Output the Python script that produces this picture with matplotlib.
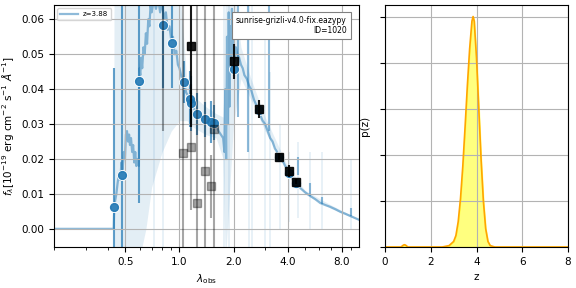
import numpy as np
import matplotlib.pyplot as plt
from matplotlib.ticker import NullFormatter

# best-fit template spectrum (microns, 1e-19 erg/s/cm2/A)
spec_lam = [0.20, 0.43, 0.432, 0.438, 0.445, 0.452, 0.46, 0.468, 0.475, 0.482,
            0.49, 0.497, 0.503, 0.51, 0.517, 0.524, 0.53, 0.537, 0.545, 0.552,
            0.56, 0.567, 0.575, 0.585, 0.594, 0.598, 0.605, 0.612, 0.62, 0.63,
            0.64, 0.65, 0.66, 0.67, 0.68, 0.69, 0.70, 0.72, 0.74, 0.76,
            0.78, 0.80, 0.82, 0.84, 0.86, 0.88, 0.90, 0.92, 0.94, 0.96,
            0.98, 1.00, 1.03, 1.06, 1.09, 1.12, 1.15, 1.18, 1.22, 1.26,
            1.30, 1.35, 1.40, 1.45, 1.50, 1.55, 1.60, 1.65, 1.70, 1.75,
            1.78, 1.80, 1.82, 1.84, 1.86, 1.88, 1.90, 1.92, 1.94, 1.96,
            1.98, 2.00, 2.03, 2.06, 2.10, 2.15, 2.20, 2.25, 2.30, 2.37,
            2.44, 2.50, 2.60, 2.70, 2.80, 2.90, 3.00, 3.10, 3.20, 3.30,
            3.40, 3.50, 3.64, 3.80, 3.88, 4.00, 4.14, 4.30, 4.41, 4.70,
            5.00, 5.35, 5.70, 6.08, 6.50, 6.91, 7.40, 7.86, 8.40, 8.93,
            9.50, 10.0]
spec_flux = [0.0, 0.0, 0.004, 0.008, 0.010, 0.013, 0.016, 0.014, 0.019, 0.017,
             0.022, 0.020, 0.027, 0.028, 0.025, 0.027, 0.024, 0.026, 0.022, 0.024,
             0.019, 0.022, 0.018, 0.020, 0.018, 0.046, 0.044, 0.049, 0.046, 0.052,
             0.050, 0.056, 0.053, 0.060, 0.058, 0.064, 0.062, 0.066, 0.063, 0.066,
             0.062, 0.065, 0.060, 0.062, 0.057, 0.058, 0.054, 0.055, 0.050, 0.051,
             0.047, 0.046, 0.043, 0.042, 0.039, 0.038, 0.036, 0.035, 0.034, 0.033,
             0.032, 0.031, 0.031, 0.030, 0.030, 0.029, 0.030, 0.028, 0.027, 0.026,
             0.022, 0.040, 0.020, 0.055, 0.030, 0.062, 0.035, 0.058, 0.045, 0.063,
             0.050, 0.055, 0.048, 0.052, 0.050, 0.049, 0.047, 0.046, 0.044, 0.043,
             0.041, 0.040, 0.037, 0.035, 0.033, 0.031, 0.030, 0.028, 0.026, 0.025,
             0.023, 0.022, 0.020, 0.019, 0.018, 0.017, 0.0155, 0.014, 0.013, 0.0117,
             0.0105, 0.0094, 0.0085, 0.0074, 0.0068, 0.0063, 0.0056, 0.0049, 0.0043, 0.0037,
             0.0031, 0.0026]

# template uncertainty band
band_lam = [0.20, 0.43, 0.432, 0.59, 0.65, 0.70, 0.80, 0.90, 1.00, 1.10,
            1.20, 1.40, 1.60, 1.75, 1.80, 2.00, 2.20, 2.50, 3.00, 4.00,
            5.00, 7.00, 10.0]
band_lo = [0.0, 0.0, -0.01, -0.01, 0.0, 0.012, 0.022, 0.028, 0.031, 0.031,
           0.029, 0.027, 0.026, 0.020, -0.01, 0.030, 0.043, 0.037, 0.028, 0.016,
           0.0100, 0.0058, 0.0024]
band_hi = [0.0, 0.0, 0.07, 0.07, 0.07, 0.07, 0.07, 0.07, 0.07, 0.042,
           0.038, 0.035, 0.033, 0.032, 0.07, 0.07, 0.052, 0.043, 0.032, 0.018,
           0.011, 0.0068, 0.0028]

# emission lines in the template (lam, bottom, top)
line_lam = [2.12, 2.42, 3.17, 4.60, 5.30, 6.20, 9.00]
line_lo = [0.032, 0.022, 0.028, 0.0154, 0.0095, 0.0072, 0.0036]
line_hi = [0.064, 0.070, 0.070, 0.0206, 0.013, 0.009, 0.006]

# faint lines in the band
faint_lam = [0.72, 0.81, 1.78, 1.88, 2.44, 2.55, 3.00, 3.20, 3.64, 4.10, 4.60, 5.30, 6.20, 9.00]
faint_lo = [-0.01, -0.01, -0.01, -0.01, -0.01, -0.01, -0.01, -0.01, 0.0, 0.002, 0.003, 0.0, 0.0, 0.0]
faint_hi = [0.07, 0.07, 0.07, 0.07, 0.07, 0.07, 0.06, 0.045, 0.03, 0.022, 0.025, 0.022, 0.022, 0.02]

# model photometry
mod_lam = [0.434, 0.477, 0.598, 0.813, 0.913, 1.065, 1.15, 1.16, 1.258, 1.39,
           1.50, 1.55, 2.00, 2.79, 3.59, 4.07, 4.43]
mod_flux = [0.0062, 0.0154, 0.0423, 0.0583, 0.0533, 0.0420, 0.0371, 0.0359, 0.0328, 0.0314,
            0.0306, 0.0304, 0.0459, 0.0340, 0.0205, 0.0160, 0.0132]
mod_err = [0.040, 0.065, 0.035, 0.018, 0.013, 0.006, 0.008, 0.008, 0.006, 0.005,
           0.006, 0.005, 0.002, 0.001, 0.001, 0.001, 0.001]

# observed photometry, good S/N
obs_lam = [1.16, 2.00, 2.79, 3.59, 4.07, 4.43]
obs_flux = [0.0523, 0.0480, 0.0342, 0.0207, 0.0166, 0.0135]
obs_err = [0.023, 0.005, 0.0026, 0.0010, 0.0018, 0.0008]

# observed photometry, low S/N
low_lam = [0.813, 1.05, 1.16, 1.258, 1.39, 1.50, 1.55]
low_flux = [0.075, 0.0216, 0.0234, 0.0073, 0.0166, 0.0122, 0.0285]
low_err = [0.047, 0.050, 0.018, 0.060, 0.050, 0.009, 0.040]

# p(z)
z_grid = [0.0, 0.7, 0.8, 0.85, 0.9, 1.0, 2.5, 2.8, 3.0, 3.1,
          3.2, 3.3, 3.4, 3.5, 3.6, 3.7, 3.8, 3.85, 3.9, 4.0,
          4.1, 4.2, 4.3, 4.4, 4.5, 4.6, 4.8, 8.0]
pz = [0.0, 0.0, 0.04, 0.05, 0.04, 0.0, 0.0, 0.03, 0.12, 0.25,
      0.55, 1.05, 1.75, 2.6, 3.5, 4.3, 4.9, 5.0, 4.9, 4.1,
      3.0, 1.9, 1.0, 0.4, 0.12, 0.03, 0.0, 0.0]

fs = 7.5
fig = plt.figure(figsize=(5.76, 2.88), dpi=100)
ax = fig.add_axes([54/576, 41/288, 305/576, 242/288])
axp = fig.add_axes([385/576, 41/288, 183/576, 242/288])

# --- SED panel
ax.fill_between(band_lam, band_lo, band_hi, color='C0', alpha=0.12, lw=0, zorder=-2)
ax.vlines(faint_lam, faint_lo, faint_hi, color='C0', alpha=0.12, lw=1.2, zorder=-2)
ax.plot(spec_lam, spec_flux, color='C0', alpha=0.5, lw=1.6, zorder=-1, label='z=3.88')
ax.vlines(line_lam, line_lo, line_hi, color='C0', alpha=0.5, lw=1.5, zorder=-1)

ax.errorbar(mod_lam, mod_flux, mod_err, color='C0', marker='None', ls='None',
            elinewidth=1.5, alpha=0.7, zorder=0)
ax.scatter(mod_lam, mod_flux, color='w', s=48, zorder=1)
ax.scatter(mod_lam, mod_flux, color='C0', s=32, alpha=0.9, zorder=2)

ax.errorbar(low_lam, low_flux, low_err, color='k', marker='s', ms=5.5, ls='None',
            elinewidth=1.5, alpha=0.35, zorder=3)
ax.errorbar(obs_lam, obs_flux, obs_err, color='k', marker='s', ms=6, ls='None',
            elinewidth=1.5, alpha=0.9, zorder=4)

ax.set_xscale('log')
ax.set_xlim(0.2, 10.0)
ax.set_ylim(-0.0052, 0.0641)
ax.set_xticks([0.5, 1.0, 2.0, 4.0, 8.0])
ax.set_xticklabels(['0.5', '1.0', '2.0', '4.0', '8.0'])
ax.xaxis.set_minor_formatter(NullFormatter())
ax.set_yticks([0.0, 0.01, 0.02, 0.03, 0.04, 0.05, 0.06])
ax.tick_params(labelsize=fs)
ax.grid(color='0.7', lw=0.8)
ax.set_axisbelow(True)
ax.set_xlabel(r'$\lambda_\mathrm{obs}$', fontsize=fs)
ax.set_ylabel(r'$f_\lambda [10^{-19}$ erg cm$^{-2}$ s$^{-1}$ $\AA^{-1}$]', fontsize=fs)
ax.legend(loc='upper left', fontsize=5, handlelength=2.5, borderpad=0.4)
ax.text(0.96, 0.955, 'sunrise-grizli-v4.0-fix.eazypy\nID=1020', transform=ax.transAxes,
        ha='right', va='top', fontsize=5.5,
        bbox=dict(facecolor='w', edgecolor='0.5', lw=0.8, pad=3))

# --- p(z) panel
axp.fill_between(z_grid, pz, color='yellow', alpha=0.5)
axp.plot(z_grid, pz, color='orange', lw=1.2)
axp.set_xlim(0, 8)
axp.set_ylim(0, 1.05*max(pz))
axp.set_xticks([0, 2, 4, 6, 8])
axp.set_yticks([0, 1, 2, 3, 4, 5])
axp.set_yticklabels([])
axp.tick_params(labelsize=fs)
axp.grid(color='0.7', lw=0.8)
axp.set_xlabel('z', fontsize=fs)
axp.set_ylabel('p(z)', fontsize=fs)

fig.savefig('out.png', dpi=100)
